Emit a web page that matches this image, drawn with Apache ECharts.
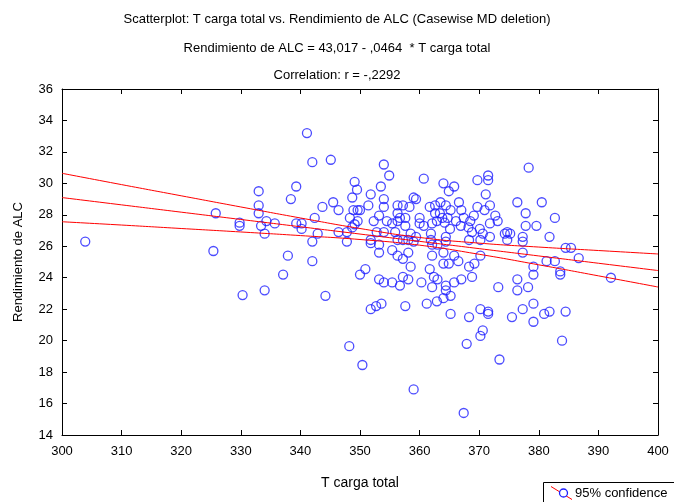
<!DOCTYPE html>
<html><head><meta charset="utf-8">
<script src="https://cdn.jsdelivr.net/npm/echarts@6/dist/echarts.min.js"></script>
<style>html,body{margin:0;padding:0;background:#fff}#c{width:674px;height:502px}</style>
</head><body><div id="c"></div>
<script>
// Data
const tCargaTotal = [303.9,325.8,325.4,329.8,329.8,330.3,333.0,333.0,333.0,333.4,334.0,334.3,334.0,335.7,337.1,337.9,338.4,339.3,339.3,340.2,340.2,341.1,342.0,342.4,342.9,342.0,342.0,344.2,343.7,345.1,345.5,346.4,346.4,347.8,347.8,348.3,348.9,349.6,350.0,349.6,349.1,348.7,349.1,349.5,348.7,348.2,350.4,350.0,350.9,351.8,351.4,351.8,351.8,351.8,352.7,353.6,352.3,353.2,352.8,353.2,353.2,353.2,353.5,354.0,354.9,354.0,354.0,354.0,354.0,354.5,355.4,355.4,355.4,355.9,356.3,356.3,356.3,356.7,356.3,356.3,356.7,357.2,357.2,357.2,357.2,357.6,357.6,357.6,358.3,358.1,358.1,358.1,358.5,358.5,359.0,359.4,359.4,359.0,359.0,360.0,360.0,360.7,360.7,360.3,361.2,361.7,361.9,361.9,362.1,362.9,362.1,363.0,362.1,361.7,362.4,363.0,362.1,362.9,362.6,363.5,364.4,362.6,363.4,364.0,364.9,365.8,366.6,365.2,367.0,363.8,364.7,364.2,365.1,366.9,366.1,364.4,364.4,364.0,365.8,366.5,364.0,364.9,364.4,364.4,365.8,364.0,365.2,365.2,367.0,368.3,369.2,368.8,367.9,367.4,368.3,370.2,371.5,371.5,370.6,370.2,373.4,367.4,368.5,369.1,369.7,370.9,371.8,372.7,373.1,371.8,368.2,368.8,370.1,370.6,371.8,368.3,370.2,369.7,371.5,371.5,371.1,370.2,373.2,374.3,374.7,375.2,374.7,376.4,377.8,377.8,379.6,380.5,382.7,381.8,378.3,377.3,377.3,377.3,384.5,385.4,386.7,379.1,379.1,381.3,382.7,383.6,383.6,392.1,376.4,376.4,378.2,379.1,379.1,377.3,375.5,380.9,381.8,384.5,383.9];
const rendimientoALC = [26.3,28.1,25.7,27.5,27.3,22.9,29.5,28.6,28.1,27.3,26.8,27.6,23.2,27.45,24.2,25.4,29.0,29.8,27.45,27.45,27.1,33.2,31.35,27.8,26.8,26.3,25.05,22.85,28.5,31.5,28.8,28.3,26.9,26.9,26.3,27.8,28.3,28.3,28.3,27.6,27.4,27.2,30.1,29.6,29.1,19.65,18.45,24.2,24.55,29.3,28.6,26.4,26.2,22.0,22.2,22.35,27.6,27.95,26.9,26.1,25.6,23.9,29.8,31.2,30.5,29.0,28.5,26.9,23.7,27.6,27.45,25.75,23.7,26.9,28.6,28.1,27.6,27.8,26.4,25.4,23.5,28.6,26.4,25.2,24.05,27.8,27.3,22.2,28.5,26.4,25.6,23.9,26.8,24.7,29.1,29.0,26.6,26.3,16.9,27.8,27.45,27.3,30.3,23.7,22.35,28.5,26.8,26.4,27.45,27.6,26.1,26.1,25.4,24.55,24.05,23.9,23.4,22.5,28.6,28.8,28.6,28.1,28.1,30.0,29.5,29.8,28.8,28.3,28.3,27.8,27.8,27.5,27.1,27.3,27.6,26.6,26.3,25.6,25.4,25.05,24.9,24.9,23.5,23.2,23.7,22.7,22.85,21.7,23.9,24.7,24.9,24.05,19.8,15.4,21.5,22.0,21.85,21.7,20.65,20.3,18.8,27.8,27.6,27.95,28.5,28.3,28.6,27.95,27.6,27.45,27.2,26.9,27.1,26.8,26.6,26.4,26.4,30.2,30.5,30.2,29.3,25.4,23.4,26.8,26.9,26.8,26.4,28.8,28.1,27.3,27.3,28.8,27.8,26.6,31.0,26.6,26.3,25.6,25.9,25.9,25.25,24.7,24.2,25.05,25.05,24.4,24.2,24.0,23.9,23.2,23.4,22.35,21.2,22.0,21.5,21.7,21.85,21.85,20.0];
const lineX = [300,310,320,330,340,350,360,370,380,390,400];
const fitY = [29.097,28.633,28.169,27.705,27.241,26.777,26.313,25.849,25.385,24.921,24.457];
const upperY = [30.64,29.92,29.21,28.50,27.80,27.13,26.56,26.20,25.95,25.73,25.51];
const lowerY = [27.56,27.35,27.13,26.91,26.68,26.43,26.07,25.49,24.82,24.12,23.41];
const xTicks = {min:300, max:400, interval:10};
const yTicks = {min:14, max:36, interval:2};

const chart = echarts.init(document.getElementById('c'), null, {renderer:'canvas'});
const FONT = '"Liberation Sans", Arial, sans-serif';
const pts = tCargaTotal.map((x,i)=>[x, rendimientoALC[i]]);
const pair = (ys)=>lineX.map((x,i)=>[x, ys[i]]);
const axBase = {
  axisLine:{show:true, lineStyle:{color:'#000', width:1}},
  axisTick:{show:true, inside:true, length:5, lineStyle:{color:'#000'}},
  splitLine:{show:false}
};
const lineSeries = (ys)=>({type:'line', data:pair(ys), showSymbol:false, symbol:'none', smooth:true,
  lineStyle:{color:'#ff0000', width:1}, silent:true, z:3});
const tStyle = {fontSize:13, fontWeight:'normal', color:'#000', fontFamily:FONT};

chart.setOption({
  animation:false,
  backgroundColor:'#fff',
  textStyle:{fontFamily:FONT},
  title:[
    {text:'Scatterplot: T carga total vs. Rendimiento de ALC (Casewise MD deletion)', left:'center', top:8, textStyle:tStyle},
    {text:'Rendimiento de ALC = 43,017 - ,0464  * T carga total', left:'center', top:37, textStyle:tStyle},
    {text:'Correlation: r = -,2292', left:'center', top:64, textStyle:tStyle}
  ],
  grid:{left:62, right:16, top:89, bottom:67},
  xAxis:[
    Object.assign({type:'value', position:'bottom', min:xTicks.min, max:xTicks.max, interval:xTicks.interval,
      name:'T carga total', nameLocation:'middle', nameGap:41,
      nameTextStyle:{fontSize:14, color:'#000', fontFamily:FONT},
      axisLabel:{fontSize:13, color:'#000', margin:10, fontFamily:FONT}}, axBase),
    Object.assign({type:'value', position:'top', min:xTicks.min, max:xTicks.max, interval:xTicks.interval,
      axisLabel:{show:false}}, axBase)
  ],
  yAxis:[
    Object.assign({type:'value', position:'left', min:yTicks.min, max:yTicks.max, interval:yTicks.interval,
      name:'Rendimiento de ALC', nameLocation:'middle', nameGap:37, nameRotate:90,
      nameTextStyle:{fontSize:13, color:'#000', fontFamily:FONT},
      axisLabel:{fontSize:13, color:'#000', margin:9, fontFamily:FONT}}, axBase),
    Object.assign({type:'value', position:'right', min:yTicks.min, max:yTicks.max, interval:yTicks.interval,
      axisLabel:{show:false}}, axBase)
  ],
  series:[
    {type:'scatter', data:pts, symbol:'circle', symbolSize:9,
      itemStyle:{color:'rgba(0,0,0,0)', borderColor:'#1f1fff', borderWidth:1.3}, z:2},
    lineSeries(fitY), lineSeries(upperY), lineSeries(lowerY)
  ],
  graphic:[
    {type:'rect', shape:{x:543.5, y:482.5, width:140, height:30}, style:{fill:'#fff', stroke:'#000', lineWidth:1}},
    {type:'line', shape:{x1:551, y1:486.5, x2:572, y2:499.5}, style:{stroke:'#ff0000', lineWidth:1}},
    {type:'circle', shape:{cx:563.5, cy:493, r:4}, style:{fill:'#fff', stroke:'#1f1fff', lineWidth:1.3}},
    {type:'text', x:575, y:493, style:{text:'95% confidence', fontSize:13, fill:'#000', fontFamily:FONT, textVerticalAlign:'middle'}}
  ]
});
</script></body></html>
